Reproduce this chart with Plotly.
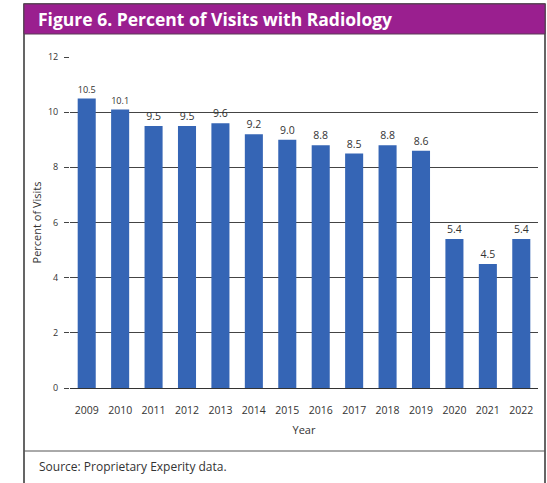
import plotly.graph_objects as go

# Share of visits that included radiology, by year
years = ["2009", "2010", "2011", "2012", "2013", "2014", "2015",
         "2016", "2017", "2018", "2019", "2020", "2021", "2022"]
percent_visits = [10.5, 10.1, 9.5, 9.5, 9.6, 9.2, 9.0,
                  8.8, 8.5, 8.8, 8.6, 5.4, 4.5, 5.4]
y_ticks = [0, 2, 4, 6, 8, 10, 12]

W, H = 547, 483
L, R, T, B = 70, 9, 57, 95
PW, PH = W - L - R, H - T - B


def px_x(px):
    return (px - L) / PW


def px_y(py):
    return (H - B - py) / PH


BAR = "#3565b5"
PURPLE = "#9a1f8f"

fig = go.Figure(go.Bar(
    x=years, y=percent_visits,
    marker=dict(color=BAR, line=dict(width=0)),
    text=[f"{v:.1f}" for v in percent_visits],
    textposition="outside",
    textfont=dict(size=10.5, color="#333333", family="Open Sans"),
    cliponaxis=False,
    width=0.54,
))

shapes = [
    # outer frame
    dict(type="rect", xref="paper", yref="paper",
         x0=px_x(24), x1=px_x(545), y0=px_y(495), y1=px_y(4),
         line=dict(color="#333333", width=1.5), layer="below"),
    # title band
    dict(type="rect", xref="paper", yref="paper",
         x0=px_x(24), x1=px_x(545), y0=px_y(34), y1=px_y(4),
         fillcolor=PURPLE, line=dict(color="#5a3a55", width=1), layer="below"),
    # source separator
    dict(type="line", xref="paper", yref="paper",
         x0=px_x(24), x1=px_x(545), y0=px_y(451), y1=px_y(451),
         line=dict(color="#555555", width=1)),
]

annotations = [
    dict(text="<b>Figure 6. Percent of Visits with Radiology</b>",
         xref="paper", yref="paper", x=px_x(36), y=px_y(19),
         xanchor="left", yanchor="middle", showarrow=False,
         font=dict(size=17.5, color="white", family="Open Sans")),
    dict(text="Source: Proprietary Experity data.",
         xref="paper", yref="paper", x=px_x(37), y=px_y(466),
         xanchor="left", yanchor="middle", showarrow=False,
         font=dict(size=12, color="#333333", family="Open Sans")),
]

fig.update_layout(
    width=W, height=H,
    margin=dict(l=L, r=R, t=T, b=B),
    paper_bgcolor="white", plot_bgcolor="white",
    shapes=shapes, annotations=annotations,
    showlegend=False,
    bargap=0.46,
    xaxis=dict(
        title=dict(text="Year", font=dict(size=11, color="#333333", family="Open Sans"),
                   standoff=10),
        tickfont=dict(size=10.5, color="#333333", family="Open Sans"),
        showgrid=False, showline=False,
        ticks="outside", ticklen=12, tickcolor="rgba(0,0,0,0)",
    ),
    yaxis=dict(
        title=dict(text="Percent of Visits", font=dict(size=11, color="#333333", family="Open Sans"),
                   standoff=4),
        range=[0, 12], tickvals=y_ticks,
        tickfont=dict(size=9, color="#333333", family="Open Sans"),
        showgrid=True, gridcolor="#444444", gridwidth=1,
        zeroline=True, zerolinecolor="#333333", zerolinewidth=1,
        ticks="outside", ticklen=5, tickcolor="#444444",
        ticklabelstandoff=4,
        showline=False,
    ),
)

fig.write_html("out.html")
